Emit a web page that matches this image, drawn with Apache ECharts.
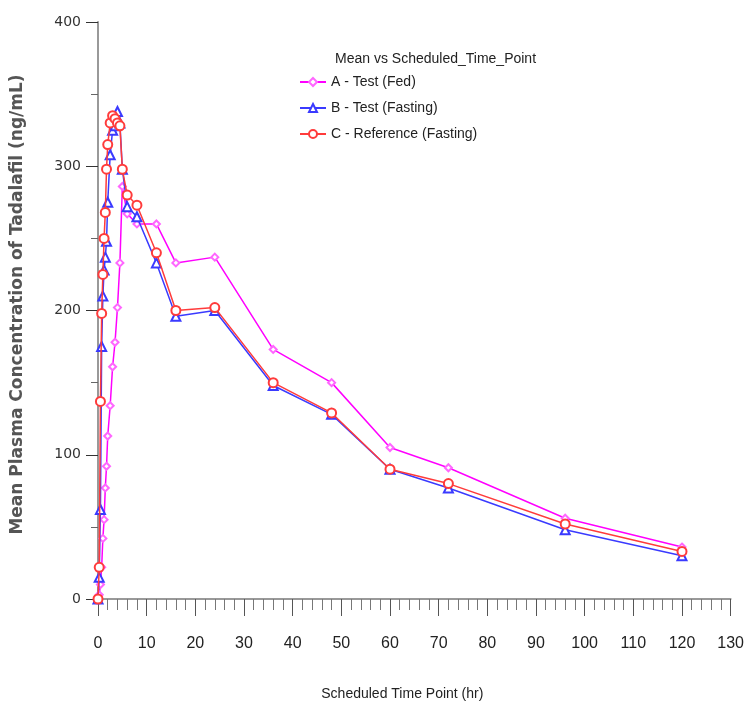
<!DOCTYPE html>
<html>
<head>
<meta charset="utf-8">
<script src="https://cdn.jsdelivr.net/npm/echarts@6/dist/echarts.min.js"></script>
<style>
html,body{margin:0;padding:0;background:#fff;}
#chart{width:747px;height:706px;}
</style>
</head>
<body>
<div id="chart"></div>
<script>
const times = [0, 0.25, 0.5, 0.75, 1, 1.25, 1.5, 1.75, 2, 2.5, 3, 3.5, 4, 4.5, 5, 6, 8, 12, 16, 24, 36, 48, 60, 72, 96, 120];
const seriesNames = ['A - Test (Fed)', 'B - Test (Fasting)', 'C - Reference (Fasting)'];
const valuesA = [0, 3, 10, 22, 42, 55, 77, 92, 113, 134, 161, 178, 202, 233, 286, 267, 260, 260, 233, 237, 173, 150, 105, 91, 56, 36];
const valuesB = [0, 15, 62, 175, 210, 228, 237, 248, 275, 308, 325, 328, 338, 330, 298, 272, 265, 233, 196, 200, 148, 128, 90, 77, 48, 30];
const valuesC = [0, 22, 137, 198, 225, 250, 268, 298, 315, 330, 335, 333, 330, 328, 298, 280, 273, 240, 200, 202, 150, 129, 90, 80, 52, 33];
const xTicks = [0, 10, 20, 30, 40, 50, 60, 70, 80, 90, 100, 110, 120, 130];
const yTicks = [0, 100, 200, 300, 400];
const legendTitle = 'Mean vs Scheduled_Time_Point';
const xTitle = 'Scheduled Time Point (hr)';
const yTitle = 'Mean Plasma Concentration of Tadalafil (ng/mL)';

const font = '"Liberation Sans Narrow", "Liberation Sans", sans-serif';
const pair = (vals) => times.map((t, i) => [t, vals[i]]);
const colors = ['#ff00ff', '#3a3aff', '#ff3b3b'];
const symbols = ['emptyDiamond', 'emptyTriangle', 'emptyCircle'];
const symbolColors = ['#ff66ff', '#3a3aff', '#ff3b3b'];
const allVals = [valuesA, valuesB, valuesC];

const chart = echarts.init(document.getElementById('chart'));
chart.setOption({
  animation: false,
  backgroundColor: '#fff',
  title: {
    text: legendTitle,
    left: 330, top: 47,
    textStyle: {fontFamily: font, fontSize: 14, fontWeight: 'normal', color: '#222'}
  },
  legend: {
    orient: 'vertical',
    left: 294, top: 70,
    itemGap: 12,
    itemWidth: 26, itemHeight: 10,
    textStyle: {fontFamily: font, fontSize: 14, color: '#222'},
    data: seriesNames
  },
  grid: {left: 98, right: 14, top: 22, bottom: 105},
  xAxis: {
    type: 'value', min: 0, max: 130, interval: 10,
    name: xTitle, nameLocation: 'middle', nameGap: 88,
    nameTextStyle: {fontFamily: font, fontSize: 14, color: '#222', padding: [0, 24, 0, 0]},
    axisLine: {show: true, onZero: false, lineStyle: {color: '#999', width: 2}},
    axisTick: {show: true, length: 17, lineStyle: {color: '#555', width: 1}},
    minorTick: {show: true, splitNumber: 5, length: 11, lineStyle: {color: '#777', width: 1}},
    axisLabel: {fontFamily: font, fontSize: 16, color: '#222', margin: 37,
      formatter: (v) => xTicks.includes(v) ? String(v) : ''},
    splitLine: {show: false}
  },
  yAxis: {
    type: 'value', min: 0, max: 400, interval: 100,
    name: yTitle, nameLocation: 'middle', nameGap: 72, nameRotate: 90,
    nameTextStyle: {fontFamily: 'DejaVu Sans, sans-serif', fontSize: 17, fontWeight: 'bold', color: '#555', padding: [0, 0, 0, 12]},
    axisLine: {show: true, lineStyle: {color: '#999', width: 2}},
    axisTick: {show: true, length: 12, lineStyle: {color: '#333', width: 1}},
    minorTick: {show: true, splitNumber: 2, length: 7, lineStyle: {color: '#666', width: 1}},
    axisLabel: {fontFamily: 'DejaVu Sans, sans-serif', fontSize: 14, color: '#333', margin: 17,
      formatter: (v) => yTicks.includes(v) ? String(v) : ''},
    splitLine: {show: false}
  },
  series: seriesNames.map((n, i) => ({
    name: n,
    type: 'line',
    data: pair(allVals[i]),
    symbol: symbols[i],
    symbolSize: i === 0 ? 7 : 9,
    showAllSymbol: true,
    lineStyle: {color: colors[i], width: 1.5},
    itemStyle: {color: symbolColors[i], borderColor: symbolColors[i], borderWidth: 1},
    z: 2 + i
  }))
});
</script>
</body>
</html>
